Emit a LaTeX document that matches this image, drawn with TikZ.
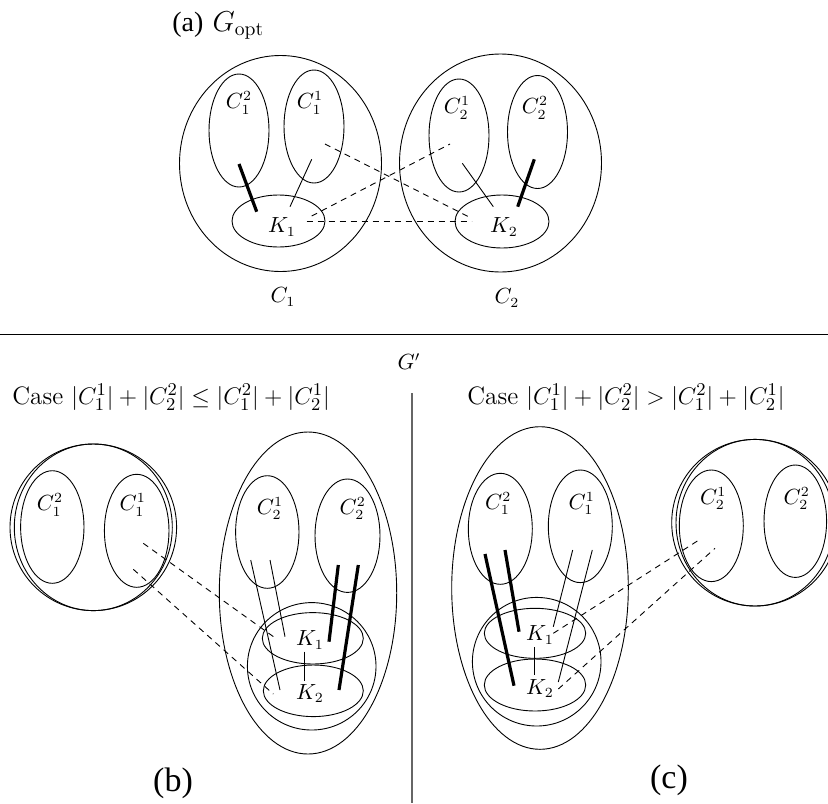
\documentclass[tikz,border=0pt]{standalone}
\usepackage{fontspec}
\newfontfamily\timesfont{Liberation Serif}
\usetikzlibrary{shapes.geometric}
\begin{document}
\begin{tikzpicture}[x=0.5pt,y=-0.5pt,
  ell/.style 2 args={draw, ellipse, minimum width=#1pt, minimum height=#2pt, inner sep=0pt, outer sep=0pt, line width=0.45pt},
  lab/.style={font=\fontsize{10.5}{12}\selectfont, inner sep=0pt},
  casetxt/.style={font=\fontsize{12.6}{14}\selectfont, inner sep=0pt, anchor=west},
  tag/.style={font=\timesfont\fontsize{17}{20}\selectfont, inner sep=0pt},
  thinedge/.style={line width=0.45pt},
  thickedge/.style={line width=1.6pt},
  dashedge/.style={line width=0.45pt, dash pattern=on 3pt off 2.5pt},
  sepline/.style={line width=0.5pt},
  vsep/.style={line width=0.8pt, draw=black!60}]
\fill[white] (0,0) rectangle (828,803);
\useasboundingbox (0,0) rectangle (828,803);

% ---------------- (a) ----------------
\node[anchor=base west, inner sep=0pt, font=\fontsize{14}{16}\selectfont] (atitle) at (172,31) {{\timesfont (a)} $G_{\mathrm{opt}}$};
\node[ell={101}{108}] (C1a) at (280.5,163.5) {};
\node[ell={101}{109}] (C2a) at (500.5,163) {};
\node[ell={30}{56.5}] (C12a) at (239,130.5) {};
\node[ell={30}{56.5}] (C11a) at (314,126.5) {};
\node[ell={30}{56.5}] (C21a) at (459,135.5) {};
\node[ell={30}{56.5}] (C22a) at (537.5,132) {};
\node[ell={46.5}{26}] (K1a) at (278.5,221) {};
\node[ell={47}{26.5}] (K2a) at (502,221.5) {};
\node[lab] (lC12a) at (239,103) {$C_1^2$};
\node[lab] (lC11a) at (310,103) {$C_1^1$};
\node[lab] (lC21a) at (457,108) {$C_2^1$};
\node[lab] (lC22a) at (535,108) {$C_2^2$};
\node[lab] (lK1a) at (282,227) {$K_1$};
\node[lab] (lK2a) at (504,227) {$K_2$};
\node[lab] (lC1a) at (283,297) {$C_1$};
\node[lab] (lC2a) at (507,298) {$C_2$};
\coordinate (a1s) at (239,164);   \coordinate (a1e) at (256.7,211.7);
\coordinate (a2s) at (311.7,159.3); \coordinate (a2e) at (290,206.7);
\coordinate (a3s) at (325,144);   \coordinate (a3e) at (471.7,218.3);
\coordinate (a4s) at (311.7,216); \coordinate (a4e) at (450,144);
\coordinate (a5s) at (306.7,221.7); \coordinate (a5e) at (471.7,221.7);
\coordinate (a6s) at (462.3,163.3); \coordinate (a6e) at (493.3,206.7);
\coordinate (a7s) at (534.3,159.3); \coordinate (a7e) at (517.7,206.7);
\draw[thickedge] (a1s) -- (a1e);
\draw[thinedge] (a2s) -- (a2e);
\draw[dashedge] (a3s) -- (a3e);
\draw[dashedge] (a4s) -- (a4e);
\draw[dashedge] (a5s) -- (a5e);
\draw[thinedge] (a6s) -- (a6e);
\draw[thickedge] (a7s) -- (a7e);

% separators
\coordinate (hl) at (0,334); \coordinate (hr) at (828,334);
\draw[sepline] (hl) -- (hr);
\node[lab] (Gp) at (409,362) {$G'$};
\coordinate (vt) at (412,393); \coordinate (vb) at (412,803);
\draw[vsep] (vt) -- (vb);

% ---------------- (b) ----------------
\node[casetxt] (caseb) at (12,397) {Case $|C_1^1|+|C_2^2|\le|C_1^2|+|C_2^1|$};
\node[ell={83.3}{83.3}] (Lb) at (93.3,527.3) {};
\node[ell={79}{83.3}] (Lbi) at (93.3,527.3) {};
\node[ell={31.7}{56.3}] (C12b) at (52.3,527) {};
\node[ell={32.3}{56.5}] (C11b) at (136.7,530.8) {};
\node[lab] (lC12b) at (50,505) {$C_1^2$};
\node[lab] (lC11b) at (132.7,505) {$C_1^1$};
\node[ell={88.7}{161}] (Rb) at (308,593) {};
\node[ell={31.7}{56.3}] (C21b) at (267.3,532) {};
\node[ell={32.5}{56.7}] (C22b) at (347.5,535.7) {};
\node[ell={64.3}{63.7}] (Kb) at (311.7,666.3) {};
\node[ell={50.5}{25.7}] (K1b) at (312.8,638.3) {};
\node[ell={50}{25.8}] (K2b) at (313.3,690.8) {};
\node[lab] (lC21b) at (270,508.3) {$C_2^1$};
\node[lab] (lC22b) at (352.7,508.3) {$C_2^2$};
\node[lab] (lK1b) at (310,640) {$K_1$};
\node[lab] (lK2b) at (310,693.3) {$K_2$};
\coordinate (b1s) at (250.7,560); \coordinate (b1e) at (280,690);
\coordinate (b2s) at (270,560);   \coordinate (b2e) at (285,636.7);
\coordinate (b3s) at (338.3,565); \coordinate (b3e) at (329,641.7);
\coordinate (b4s) at (358.3,565); \coordinate (b4e) at (339,690);
\coordinate (b5s) at (304.3,651.7); \coordinate (b5e) at (304.3,680.5);
\coordinate (b6s) at (143.3,543.3); \coordinate (b6e) at (275.7,638.3);
\coordinate (b7s) at (133.3,569.3); \coordinate (b7e) at (273.3,694);
\draw[thinedge] (b1s) -- (b1e);
\draw[thinedge] (b2s) -- (b2e);
\draw[thickedge] (b3s) -- (b3e);
\draw[thickedge] (b4s) -- (b4e);
\draw[thinedge] (b5s) -- (b5e);
\draw[dashedge] (b6s) -- (b6e);
\draw[dashedge] (b7s) -- (b7e);
\node[tag] (tb) at (173,783) {(b)};

% ---------------- (c) ----------------
\node[casetxt] (casec) at (467,397) {Case $|C_1^1|+|C_2^2|>|C_1^2|+|C_2^1|$};
\node[ell={88.3}{161.3}] (Lc) at (540,588) {};
\node[ell={32}{55.5}] (C12c) at (500.3,528.8) {};
\node[ell={32}{56.3}] (C11c) at (580.3,526.3) {};
\node[ell={64.3}{64.3}] (Kc) at (536.7,661.7) {};
\node[ell={50.7}{25}] (K1c) at (535,633.3) {};
\node[ell={50.7}{26}] (K2c) at (535,685) {};
\node[lab] (lC12c) at (498.3,503.3) {$C_1^2$};
\node[lab] (lC11c) at (581.7,503.3) {$C_1^1$};
\node[lab] (lK1c) at (540,635) {$K_1$};
\node[lab] (lK2c) at (540,688.3) {$K_2$};
\node[ell={83.3}{83.3}] (Rc) at (755,522.7) {};
\node[ell={79}{83.3}] (Rci) at (755,522.7) {};
\node[ell={32}{55.8}] (C21c) at (711.3,525.8) {};
\node[ell={31.3}{56.2}] (C22c) at (795.3,521.2) {};
\node[lab] (lC21c) at (713.3,498.3) {$C_2^1$};
\node[lab] (lC22c) at (796.7,498.3) {$C_2^2$};
\coordinate (c1s) at (485,554);   \coordinate (c1e) at (514,685.7);
\coordinate (c2s) at (505,550);   \coordinate (c2e) at (519,631.7);
\coordinate (c3s) at (572.7,550); \coordinate (c3e) at (553.3,626.7);
\coordinate (c4s) at (592.3,550); \coordinate (c4e) at (558.3,682);
\coordinate (c5s) at (534.3,647); \coordinate (c5e) at (534.3,675);
\coordinate (c6s) at (553.3,633.3); \coordinate (c6e) at (700,539.3);
\coordinate (c7s) at (558.3,689); \coordinate (c7e) at (715,548.3);
\draw[thickedge] (c1s) -- (c1e);
\draw[thickedge] (c2s) -- (c2e);
\draw[thinedge] (c3s) -- (c3e);
\draw[thinedge] (c4s) -- (c4e);
\draw[thinedge] (c5s) -- (c5e);
\draw[dashedge] (c6s) -- (c6e);
\draw[dashedge] (c7s) -- (c7e);
\node[tag] (tc) at (669,780) {(c)};
\end{tikzpicture}
\end{document}
